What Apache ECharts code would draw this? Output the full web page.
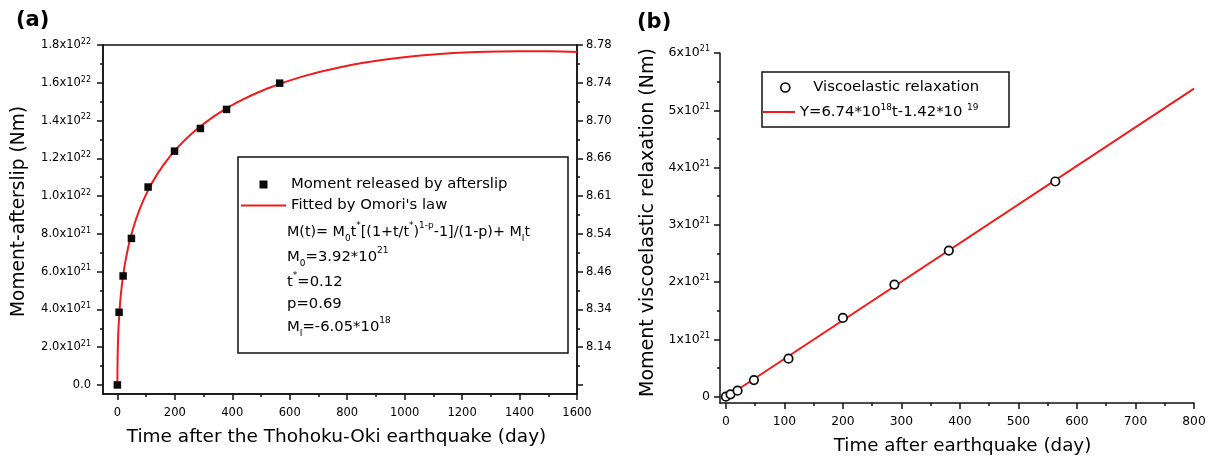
<!DOCTYPE html>
<html>
<head>
<meta charset="utf-8">
<script src="https://cdn.jsdelivr.net/npm/echarts@6/dist/echarts.min.js"></script>
<style>
  html, body { margin: 0; padding: 0; background: #fff; }
  #chart { width: 1214px; height: 461px; }
</style>
</head>
<body>
<div id="chart"></div>
<script>
// ---------- Panel (a): moment released by afterslip ----------
const afterslipDays = [0, 6, 20, 49, 107, 199, 289, 380, 565];
const afterslipMoment = [0, 3.85e21, 5.77e21, 7.76e21, 1.048e22, 1.238e22, 1.358e22, 1.459e22, 1.598e22];

// Omori's-law fit parameters (as printed in the legend box)
const M0 = 3.92e21;
const tStar = 0.12;
const pExp = 0.69;
const MI = -6.05e18;
// days at which the fitted curve is evaluated
const fitDaysA = [0, 0.05, 0.15, 0.3, 0.6, 1, 1.5, 2.5, 4, 6, 9, 13, 20, 30, 45, 65, 90, 120, 160,
  210, 270, 340, 420, 520, 640, 780, 940, 1100, 1250, 1400, 1500, 1600];

const dayTicksA = [0, 200, 400, 600, 800, 1000, 1200, 1400, 1600];
const dayMinorA = [100, 300, 500, 700, 900, 1100, 1300, 1500];
const momentTicksA = [0, 2e21, 4e21, 6e21, 8e21, 1e22, 1.2e22, 1.4e22, 1.6e22, 1.8e22];
const momentMinorA = [1e21, 3e21, 5e21, 7e21, 9e21, 1.1e22, 1.3e22, 1.5e22, 1.7e22];
const momentMantissaA = ['0.0', '2.0', '4.0', '6.0', '8.0', '1.0', '1.2', '1.4', '1.6', '1.8'];
const momentExpA = ['', '21', '21', '21', '21', '22', '22', '22', '22', '22'];
const magnitudeLabelsA = ['', '8.14', '8.34', '8.46', '8.54', '8.61', '8.66', '8.70', '8.74', '8.78'];

// ---------- Panel (b): moment of viscoelastic relaxation ----------
const viscoDays = [0, 8, 20, 48, 107, 200, 288, 381, 563];
const viscoMoment = [0, 4.2e19, 1.05e20, 2.9e20, 6.64e20, 1.375e21, 1.957e21, 2.551e21, 3.757e21];
// linear fit Y = slope * t + intercept
const slopeB = 6.74e18;
const interceptB = -1.42e19;
const fitDaysB = [0, 800];

const dayTicksB = [0, 100, 200, 300, 400, 500, 600, 700, 800];
const dayMinorB = [50, 150, 250, 350, 450, 550, 650, 750];
const momentTicksB = [0, 1e21, 2e21, 3e21, 4e21, 5e21, 6e21];
const momentMinorB = [5e20, 1.5e21, 2.5e21, 3.5e21, 4.5e21, 5.5e21];
const momentMantissaB = ['0', '1', '2', '3', '4', '5', '6'];
const momentExpB = ['', '21', '21', '21', '21', '21', '21'];

// ---------- helpers ----------
const FONT = 'DejaVu Sans';
const INK = '#000';
const AXIS = '#111';
const RED = '#f01c1c';

function tickIndex(list, v) {
  let best = 0;
  for (let i = 1; i < list.length; i++) {
    if (Math.abs(list[i] - v) < Math.abs(list[best] - v)) best = i;
  }
  return best;
}
function omori(t) {
  return M0 * tStar * (Math.pow(1 + t / tStar, 1 - pExp) - 1) / (1 - pExp) + MI * t;
}
function supRich(size, supSize) {
  return {
    m: { fontFamily: FONT, fontSize: size, color: INK, lineHeight: size + 3 },
    s: { fontFamily: FONT, fontSize: supSize, color: INK, lineHeight: supSize + 1, verticalAlign: 'top' }
  };
}
const plainNumber = function (v) { return String(Math.round(v)); };

const axisLineStyle = { color: AXIS, width: 1.5 };

function majorAxis(extra) {
  return Object.assign({
    type: 'value',
    axisLine: { show: true, onZero: false, lineStyle: axisLineStyle },
    splitLine: { show: false },
    minorTick: { show: false }
  }, extra);
}
function minorAxis(extra, values) {
  return Object.assign({
    type: 'value',
    axisLine: { show: false, onZero: false },
    axisTick: { show: true, inside: false, length: 3, customValues: values, lineStyle: axisLineStyle },
    axisLabel: { show: false },
    splitLine: { show: false }
  }, extra);
}

const X_A = { gridIndex: 0, min: -50, max: 1600 };
const Y_A = { gridIndex: 0, min: -4.8e20, max: 1.8e22 };
const X_B = { gridIndex: 1, min: -10, max: 800 };
const Y_B = { gridIndex: 1, min: -1.1e20, max: 6e21 };

const subSup = {
  b: { fontFamily: FONT, fontSize: 9, fill: INK, lineHeight: 10, verticalAlign: 'bottom' },
  p: { fontFamily: FONT, fontSize: 9, fill: INK, lineHeight: 10, verticalAlign: 'top' }
};

const chart = echarts.init(document.getElementById('chart'), null, { renderer: 'canvas' });

const option = {
  animation: false,
  backgroundColor: '#fff',
  grid: [
    { left: 103, top: 45, width: 474, height: 349, show: true, borderColor: AXIS, borderWidth: 1.5,
      backgroundColor: 'transparent', outerBoundsMode: 'none', containLabel: false },
    { left: 720, top: 53, width: 474, height: 350, show: false,
      outerBoundsMode: 'none', containLabel: false }
  ],
  xAxis: [
    majorAxis(Object.assign({}, X_A, {
      position: 'bottom',
      name: 'Time after the Thohoku-Oki earthquake (day)',
      nameLocation: 'middle', nameGap: 34,
      nameTextStyle: { fontFamily: FONT, fontSize: 18.5, color: INK, padding: [0, 7, 0, 0] },
      axisTick: { show: true, inside: false, length: 6, customValues: dayTicksA, lineStyle: axisLineStyle },
      axisLabel: { show: true, customValues: dayTicksA, margin: 13, fontFamily: FONT, fontSize: 11.5, color: INK,
        formatter: plainNumber }
    })),
    minorAxis(Object.assign({}, X_A, { position: 'bottom' }), dayMinorA),
    majorAxis(Object.assign({}, X_B, {
      position: 'bottom',
      name: 'Time after earthquake (day)',
      nameLocation: 'middle', nameGap: 34,
      nameTextStyle: { fontFamily: FONT, fontSize: 18.3, color: INK, padding: [0, 0, 0, 11] },
      axisTick: { show: true, inside: false, length: 6, customValues: dayTicksB, lineStyle: axisLineStyle },
      axisLabel: { show: true, customValues: dayTicksB, margin: 13, fontFamily: FONT, fontSize: 12.3, color: INK,
        formatter: plainNumber }
    })),
    minorAxis(Object.assign({}, X_B, { position: 'bottom' }), dayMinorB)
  ],
  yAxis: [
    majorAxis(Object.assign({}, Y_A, {
      position: 'left',
      name: 'Moment-afterslip (Nm)',
      nameLocation: 'middle', nameGap: 74, nameRotate: 90,
      nameTextStyle: { fontFamily: FONT, fontSize: 18.6, color: INK, padding: [0, 0, 0, 16] },
      axisTick: { show: true, inside: false, length: 6, customValues: momentTicksA, lineStyle: axisLineStyle },
      axisLabel: {
        show: true, customValues: momentTicksA, margin: 12,
        formatter: function (v) {
          const i = tickIndex(momentTicksA, v);
          return momentExpA[i]
            ? '{m|' + momentMantissaA[i] + 'x10}{s|' + momentExpA[i] + '}'
            : '{m|' + momentMantissaA[i] + '}';
        },
        rich: supRich(11.5, 8)
      }
    })),
    minorAxis(Object.assign({}, Y_A, { position: 'left' }), momentMinorA),
    majorAxis(Object.assign({}, Y_A, {
      position: 'right',
      axisTick: { show: true, inside: false, length: 6, customValues: momentTicksA, lineStyle: axisLineStyle },
      axisLabel: {
        show: true, customValues: momentTicksA, margin: 9, fontFamily: FONT, fontSize: 11.5, color: INK,
        formatter: function (v) { return magnitudeLabelsA[tickIndex(momentTicksA, v)]; }
      }
    })),
    minorAxis(Object.assign({}, Y_A, { position: 'right' }), momentMinorA),
    majorAxis(Object.assign({}, Y_B, {
      position: 'left',
      name: 'Moment viscoelastic relaxation (Nm)',
      nameLocation: 'middle', nameGap: 62, nameRotate: 90,
      nameTextStyle: { fontFamily: FONT, fontSize: 19, color: INK, padding: [0, 0, 0, 11] },
      axisTick: { show: true, inside: false, length: 6, customValues: momentTicksB, lineStyle: axisLineStyle },
      axisLabel: {
        show: true, customValues: momentTicksB, margin: 10,
        formatter: function (v) {
          const i = tickIndex(momentTicksB, v);
          return momentExpB[i]
            ? '{m|' + momentMantissaB[i] + 'x10}{s|' + momentExpB[i] + '}'
            : '{m|' + momentMantissaB[i] + '}';
        },
        rich: supRich(12.5, 8)
      }
    })),
    minorAxis(Object.assign({}, Y_B, { position: 'left' }), momentMinorB)
  ],
  legend: [
    {
      data: [
        { name: 'Moment released by afterslip', icon: 'path://M0,0H10V10H0Z' },
        { name: "Fitted by Omori's law", icon: 'path://M0,0H45V2H0Z' }
      ],
      orient: 'vertical', left: 241, top: 176, padding: 0,
      itemWidth: 45, itemHeight: 8, itemGap: 4,
      selectedMode: false,
      textStyle: { fontFamily: FONT, fontSize: 14.8, color: INK, lineHeight: 17 }
    },
    {
      data: [{ name: 'Viscoelastic relaxation',
        icon: 'path://M0,5A5,5,0,0,1,5,0A5,5,0,0,1,10,5A5,5,0,0,1,5,10A5,5,0,0,1,0,5Z',
        itemStyle: { color: '#fff', borderColor: INK, borderWidth: 1.6 } }],
      orient: 'vertical', left: 780, top: 79, padding: 0,
      itemWidth: 46, itemHeight: 9,
      selectedMode: false,
      textStyle: { fontFamily: FONT, fontSize: 14.8, color: INK, lineHeight: 17 }
    },
    {
      data: [{ name: 'Y=6.74*10^18t-1.42*10^19', icon: 'path://M0,0H32V2H0Z' }],
      orient: 'vertical', left: 763, top: 103, padding: 0,
      itemWidth: 32, itemHeight: 8,
      selectedMode: false,
      formatter: function () {
        return '{m|Y=6.74*10}{s|18}{m|t-1.42*10 }{s|19}';
      },
      textStyle: {
        fontFamily: FONT, fontSize: 14.8, color: INK, lineHeight: 17,
        rich: {
          m: { fontFamily: FONT, fontSize: 14.8, color: INK, lineHeight: 18 },
          s: { fontFamily: FONT, fontSize: 9, color: INK, lineHeight: 10, verticalAlign: 'top' }
        }
      }
    }
  ],
  series: [
    {
      name: "Fitted by Omori's law",
      type: 'line', xAxisIndex: 0, yAxisIndex: 0,
      data: fitDaysA.map(function (t) { return [t, omori(t)]; }),
      symbol: 'none', smooth: 0.2,
      lineStyle: { color: RED, width: 2 },
      itemStyle: { color: RED },
      z: 2
    },
    {
      name: 'Moment released by afterslip',
      type: 'scatter', xAxisIndex: 0, yAxisIndex: 0,
      data: afterslipDays.map(function (d, i) { return [d, afterslipMoment[i]]; }),
      symbol: 'rect', symbolSize: 7.5,
      itemStyle: { color: '#0a0a0a', opacity: 1 },
      z: 3
    },
    {
      name: 'Y=6.74*10^18t-1.42*10^19',
      type: 'line', xAxisIndex: 2, yAxisIndex: 4,
      data: fitDaysB.map(function (t) { return [t, slopeB * t + interceptB]; }),
      symbol: 'none',
      lineStyle: { color: RED, width: 2 },
      itemStyle: { color: RED },
      z: 2
    },
    {
      name: 'Viscoelastic relaxation',
      type: 'scatter', xAxisIndex: 2, yAxisIndex: 4,
      data: viscoDays.map(function (d, i) { return [d, viscoMoment[i]]; }),
      symbol: 'circle', symbolSize: 8.5,
      itemStyle: { color: '#fff', borderColor: '#0a0a0a', borderWidth: 1.7, opacity: 1 },
      z: 3
    }
  ],
  graphic: [
    // panel letters
    { type: 'text', left: 16, top: 10, style: { text: '(a)', fontFamily: FONT, fontSize: 21, fontWeight: 'bold', fill: '#000' } },
    { type: 'text', left: 637, top: 12, style: { text: '(b)', fontFamily: FONT, fontSize: 21, fontWeight: 'bold', fill: '#000' } },
    // legend frames
    { type: 'rect', shape: { x: 238, y: 157, width: 330, height: 196 },
      style: { fill: 'none', stroke: AXIS, lineWidth: 1.5 }, z: 10 },
    { type: 'rect', shape: { x: 762, y: 72, width: 247, height: 55 },
      style: { fill: 'none', stroke: AXIS, lineWidth: 1.5 }, z: 10 },
    // fit equation and parameters
    { type: 'text', x: 287, y: 232, z: 10, style: {
        text: 'M(t)= M{b|0}t{p|*}[(1+t/t{p|*}){p|1-p}-1]/(1-p)+ M{b|I}t',
        fontFamily: FONT, fontSize: 14.3, fill: INK, verticalAlign: 'middle', lineHeight: 22, rich: subSup } },
    { type: 'text', x: 287, y: 257, z: 10, style: {
        text: 'M{b|0}=3.92*10{p|21}',
        fontFamily: FONT, fontSize: 14.8, fill: INK, verticalAlign: 'middle', lineHeight: 22, rich: subSup } },
    { type: 'text', x: 287, y: 282, z: 10, style: {
        text: 't{p|*}=0.12',
        fontFamily: FONT, fontSize: 14.8, fill: INK, verticalAlign: 'middle', lineHeight: 22, rich: subSup } },
    { type: 'text', x: 287, y: 304, z: 10, style: {
        text: 'p=0.69',
        fontFamily: FONT, fontSize: 14.8, fill: INK, verticalAlign: 'middle' } },
    { type: 'text', x: 287, y: 327, z: 10, style: {
        text: 'M{b|I}=-6.05*10{p|18}',
        fontFamily: FONT, fontSize: 14.8, fill: INK, verticalAlign: 'middle', lineHeight: 22, rich: subSup } }
  ]
};

chart.setOption(option);
</script>
</body>
</html>
